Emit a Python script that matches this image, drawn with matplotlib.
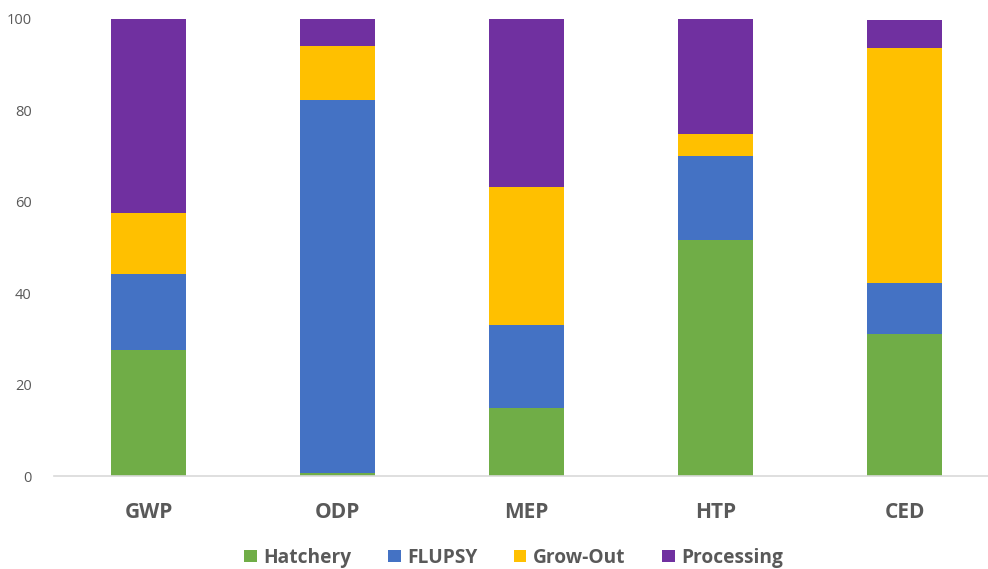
import matplotlib
matplotlib.use("Agg")
import matplotlib.pyplot as plt
import numpy as np

categories = ["GWP", "ODP", "MEP", "HTP", "CED"]
hatchery = [27.5, 0.6, 14.9, 51.7, 31.0]
flupsy = [16.7, 81.6, 18.2, 18.4, 11.2]
grow_out = [13.4, 11.9, 30.2, 4.8, 51.4]
processing = [42.4, 5.9, 36.7, 25.1, 6.1]

series = [
    ("Hatchery", hatchery, "#70AD47"),
    ("FLUPSY", flupsy, "#4472C4"),
    ("Grow-Out", grow_out, "#FFC000"),
    ("Processing", processing, "#7030A0"),
]

plt.rcParams["font.family"] = ["Open Sans", "DejaVu Sans"]
text_grey = "#595959"

fig = plt.figure(figsize=(9.88, 5.69), dpi=100)
ax = fig.add_axes([54 / 988, 93 / 569, 945 / 988, 457 / 569])

x = np.arange(len(categories))
bottom = np.zeros(len(categories))
for name, vals, color in series:
    vals = np.array(vals)
    ax.bar(x, vals, width=0.4, bottom=bottom, color=color, label=name,
           edgecolor="none")
    bottom += vals

ax.set_xlim(-0.5, len(categories) - 0.5)
ax.set_ylim(0, 100)
ax.set_yticks(range(0, 101, 20))
ax.set_xticks(x)
ax.set_xticklabels(categories, fontsize=15, fontweight="bold", color=text_grey)
ax.tick_params(axis="y", length=0, labelsize=10.5, labelcolor=text_grey, pad=16)
ax.tick_params(axis="x", length=0, pad=19)

for side in ["top", "right", "left"]:
    ax.spines[side].set_visible(False)
ax.spines["bottom"].set_color("#D9D9D9")
ax.spines["bottom"].set_linewidth(1.2)

leg = fig.legend(loc="lower center", bbox_to_anchor=(0.52, -0.028), ncol=4,
                 frameon=False, handlelength=0.65, handleheight=0.65,
                 handletextpad=0.35, columnspacing=1.9,
                 prop={"size": 13.8, "weight": "bold"})
for t in leg.get_texts():
    t.set_color(text_grey)

fig.savefig("out.png", dpi=100)
